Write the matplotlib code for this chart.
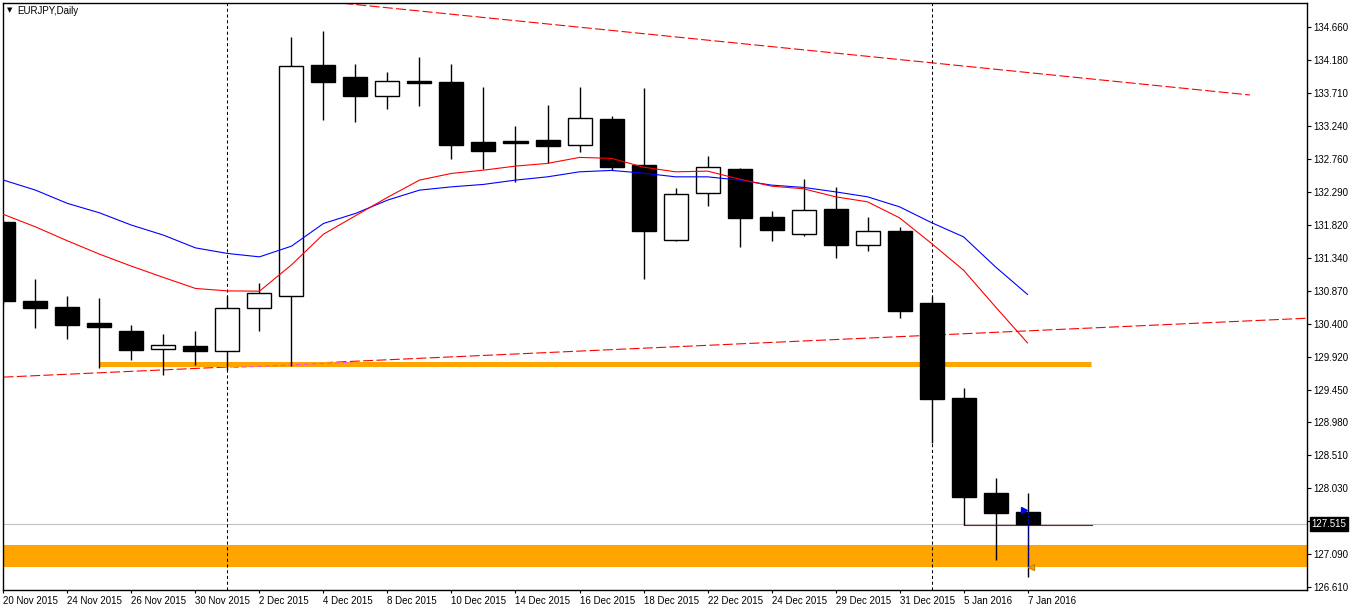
import matplotlib
matplotlib.use('Agg')
import matplotlib.pyplot as plt
from matplotlib.patches import Rectangle
import matplotlib.transforms as mtransforms

plt.rcParams['font.family'] = ['Liberation Sans', 'DejaVu Sans']

# ---------------- data ----------------
dates = ['20 Nov 2015', '23 Nov 2015', '24 Nov 2015', '25 Nov 2015', '26 Nov 2015', '27 Nov 2015',
         '30 Nov 2015', '1 Dec 2015', '2 Dec 2015', '3 Dec 2015', '4 Dec 2015', '7 Dec 2015',
         '8 Dec 2015', '9 Dec 2015', '10 Dec 2015', '11 Dec 2015', '14 Dec 2015', '15 Dec 2015',
         '16 Dec 2015', '17 Dec 2015', '18 Dec 2015', '21 Dec 2015', '22 Dec 2015', '23 Dec 2015',
         '24 Dec 2015', '28 Dec 2015', '29 Dec 2015', '30 Dec 2015', '31 Dec 2015', '4 Jan 2016',
         '5 Jan 2016', '6 Jan 2016', '7 Jan 2016']

opens = [131.857, 130.720, 130.635, 130.405, 130.290, 130.027, 130.074, 130.012, 130.616, 130.800,
         134.114, 133.941, 133.672, 133.884, 133.870, 133.007, 133.021, 133.036, 132.968, 133.337,
         132.676, 131.594, 132.269, 132.619, 131.929, 131.680, 132.044, 131.522, 131.728, 130.693,
         129.327, 127.961, 127.688]
highs = [131.870, 131.037, 130.793, 130.764, 130.376, 130.247, 130.290, 130.797, 130.980, 134.520,
         134.600, 134.128, 134.013, 134.229, 134.128, 133.797, 133.237, 133.539, 133.797, 133.381,
         133.783, 132.346, 132.806, 132.633, 132.015, 132.475, 132.360, 131.929, 131.781, 130.793,
         129.470, 128.177, 127.971]
lows = [130.680, 130.337, 130.180, 129.760, 129.878, 129.667, 129.806, 129.730, 130.294, 129.790,
        133.330, 133.299, 133.486, 133.524, 132.767, 132.619, 132.436, 132.701, 132.867, 132.604,
        131.033, 131.580, 132.091, 131.502, 131.588, 131.660, 131.344, 131.444, 130.473, 128.684,
        127.501, 126.998, 126.758]
closes = [130.721, 130.620, 130.376, 130.350, 130.021, 130.085, 130.007, 130.616, 130.832, 134.095,
          133.874, 133.672, 133.884, 133.855, 132.968, 132.882, 132.997, 132.954, 133.352, 132.652,
          131.732, 132.255, 132.643, 131.919, 131.746, 132.025, 131.531, 131.723, 130.582, 129.317,
          127.908, 127.678, 127.515]

ma_red = [131.968, 131.789, 131.588, 131.397, 131.224, 131.062, 130.904, 130.869, 130.865, 131.243,
          131.684, 131.949, 132.213, 132.461, 132.557, 132.604, 132.662, 132.701, 132.787, 132.773,
          132.647, 132.580, 132.590, 132.475, 132.374, 132.336, 132.221, 132.149, 131.919, 131.551,
          131.167, 130.639, 130.122]
ma_blue = [132.461, 132.317, 132.126, 131.991, 131.814, 131.670, 131.487, 131.407, 131.358, 131.512,
           131.838, 131.982, 132.173, 132.317, 132.364, 132.399, 132.461, 132.508, 132.580, 132.600,
           132.561, 132.508, 132.508, 132.461, 132.389, 132.356, 132.292, 132.221, 132.077, 131.850,
           131.646, 131.214, 130.818]

price_ticks = [134.660, 134.180, 133.710, 133.240, 132.760, 132.290, 131.820, 131.340, 130.870,
               130.400, 129.920, 129.450, 128.980, 128.510, 128.030, 127.560, 127.090, 126.610]
price_tick_labels = ['134.660', '134.180', '133.710', '133.240', '132.760', '132.290', '131.820',
                     '131.340', '130.870', '130.400', '129.920', '129.450', '128.980', '128.510',
                     '128.030', '', '127.090', '126.610']

current_price = 127.515
upper_trend_x = [10.61, 38.95]
upper_trend_y = [135.002, 133.684]
lower_trend_x = [0.0, 40.73]
lower_trend_y = [129.630, 130.476]
support_level = 129.812
support_x = [3.0, 33.97]
zone_low, zone_high = 126.906, 127.218
stop_level = 127.501
stop_x = [30.0, 34.0]
separators = [7, 29]

# ---------------- figure ----------------
W, H = 1350, 611
fig = plt.figure(figsize=(W / 100, H / 100), dpi=100)
fig.patch.set_facecolor('white')
left_px, right_px, top_px, bot_px = 2.5, 1307, 2.5, 590
ax = fig.add_axes([left_px / W, (H - bot_px) / H, (right_px - left_px) / W, (bot_px - top_px) / H])
ax.set_facecolor('white')

n = len(dates)
xs = list(range(n))

ax.set_xlim(-0.031, 40.734)
ax.set_ylim(126.571, 135.013)

# support zone & level
ax.axhspan(zone_low, zone_high, color='#FFA500', lw=0, zorder=1)
ax.plot(lower_trend_x, lower_trend_y, color='red', lw=0.8, ls=(0, (9, 3)), zorder=0.9)
ax.plot(support_x, [support_level, support_level], color='#FFA500', lw=3.6,
        solid_capstyle='butt', zorder=1.1)
# small magenta piece along the trend line inside the band
mx = [7.2, 10.9]
my = [lower_trend_y[0] + (lower_trend_y[1] - lower_trend_y[0]) * v / lower_trend_x[1] for v in mx]
ax.plot(mx, [my[0] - 0.012, my[1] - 0.012], color='#ff40ff', lw=0.7, ls=(0, (5, 3)), zorder=1.2)

ax.plot(upper_trend_x, upper_trend_y, color='red', lw=0.8, ls=(0, (9, 3)), zorder=1.3)

# current price line
ax.axhline(current_price, color='#c0c0c0', lw=0.8, zorder=1.4)
ax.plot(stop_x, [stop_level, stop_level], color='#cc0000', lw=0.8, zorder=1.5)

# separators
for s in separators:
    ax.axvline(s, color='black', lw=0.75, ls=(0, (3, 2.5)), zorder=1.6)

# candles
bw = 0.75
for i in xs:
    o, h, l, c = opens[i], highs[i], lows[i], closes[i]
    ax.plot([i, i], [l, h], color='black', lw=1.0, zorder=2, solid_capstyle='butt')
    bull = c >= o
    ax.add_patch(Rectangle((i - bw / 2, min(o, c)), bw, max(abs(c - o), 0.001),
                           facecolor='white' if bull else 'black', edgecolor='black',
                           lw=1.0, zorder=3))

# moving averages
ax.plot(xs, ma_blue, color='#0000ff', lw=0.8, zorder=4)
ax.plot(xs, ma_red, color='#ff0000', lw=0.8, zorder=4.1)

# trade marks on last bar
ax.plot([32, 32], [127.695, 126.90], color='#0000ff', lw=0.8, ls=(0, (1.5, 1.5)), zorder=4.2)
ax.plot([31.89], [127.72], marker='>', color='#0000ff', ms=4, zorder=5)
ax.plot([32.12], [126.90], marker='<', color='#FFA500', mec='#cc8400', ms=4.5, zorder=5)

# axes styling
for sp in ax.spines.values():
    sp.set_color('black')
    sp.set_linewidth(1.0)

ax.yaxis.tick_right()
ax.set_yticks(price_ticks)
ax.set_yticklabels(price_tick_labels)
ax.tick_params(axis='y', direction='out', length=3, width=0.8, pad=1.5, labelsize=7, colors='black')

tick_pos = xs[::2]
ax.set_xticks(tick_pos)
ax.set_xticklabels([dates[i] for i in tick_pos], ha='left')
ax.tick_params(axis='x', direction='out', length=2.5, width=0.8, pad=1.5, labelsize=7, colors='black')
for lbl in ax.get_xticklabels():
    lbl.set_horizontalalignment('left')

# current price label
trans = mtransforms.blended_transform_factory(ax.transAxes, ax.transData)
ax.text(1.0035, current_price, '127.515', transform=trans, color='white', fontsize=7,
        va='center', ha='left', clip_on=False, zorder=20,
        bbox=dict(boxstyle='square,pad=0.2', fc='black', ec='black'))

# title
fig.text(7 / W, 1 - 10 / H, '▼', fontsize=5, va='center', ha='left', color='black',
         family=['DejaVu Sans'])
fig.text(17 / W, 1 - 10.5 / H, 'EURJPY,Daily', fontsize=7, va='center', ha='left', color='black')

fig.savefig('out.png', dpi=100, facecolor='white')
